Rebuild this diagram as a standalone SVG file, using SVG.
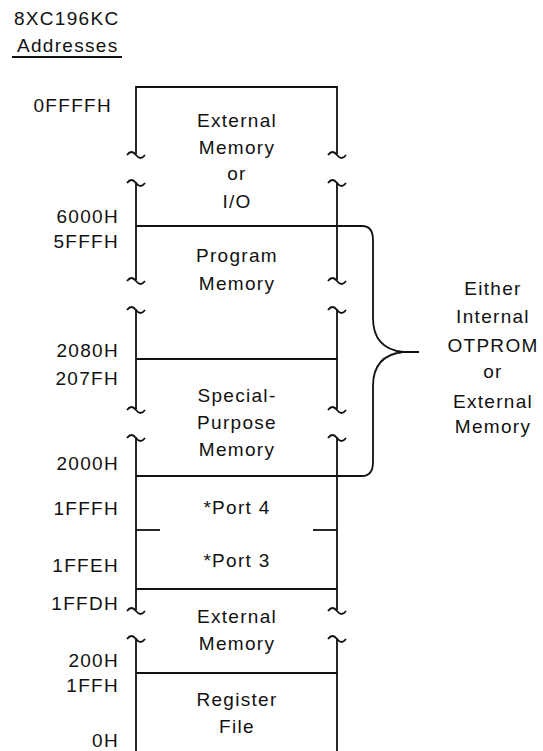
<svg xmlns="http://www.w3.org/2000/svg" width="543" height="751" viewBox="0 0 543 751">
<style>
text{font-family:"Liberation Sans",Arial,sans-serif;font-size:19px;letter-spacing:1.3px;fill:#111}
.c{text-anchor:middle}
.e{text-anchor:end}
.ln{stroke:#111;stroke-width:1.8;fill:none}
.br{stroke:#111;stroke-width:1.8;fill:none;stroke-linejoin:round}
</style>
<defs>
<path id="tdn" d="M-9,1 C-6,-3 -3,-3 0,1 C3,5 6,5 9,1" class="br"/>
<path id="tup" d="M-9,1 C-6,-3 -3,-3 0,1 C3,5 6,5 9,1" class="br"/>
</defs>
<rect width="543" height="751" fill="#fff"/>

<g id="title">
<text x="14" y="25">8XC196KC</text>
<text x="17" y="52">Addresses</text>
<line x1="12" y1="57" x2="122" y2="57" class="ln"/>
</g>

<g id="addresses">
<text class="e" x="112" y="112">0FFFFH</text>
<text class="e" x="119" y="223">6000H</text>
<text class="e" x="119" y="248">5FFFH</text>
<text class="e" x="119" y="357">2080H</text>
<text class="e" x="119" y="385">207FH</text>
<text class="e" x="119" y="470">2000H</text>
<text class="e" x="119" y="515">1FFFH</text>
<text class="e" x="119" y="572">1FFEH</text>
<text class="e" x="119" y="610">1FFDH</text>
<text class="e" x="119" y="667">200H</text>
<text class="e" x="119" y="692">1FFH</text>
<text class="e" x="119" y="747">0H</text>
</g>

<g id="connectors">
<path class="ln" d="M136,154 V87 H337 V154"/>
<path class="ln" d="M136,182 V280 M337,182 V280"/>
<path class="ln" d="M136,309 V409 M337,309 V409"/>
<path class="ln" d="M136,437 V610 M337,437 V610"/>
<path class="ln" d="M136,638 V751 M337,638 V751"/>
<use href="#tdn" x="136" y="154"/><use href="#tdn" x="337" y="154"/>
<use href="#tup" x="136" y="182"/><use href="#tup" x="337" y="182"/>
<use href="#tdn" x="136" y="280"/><use href="#tdn" x="337" y="280"/>
<use href="#tup" x="136" y="309"/><use href="#tup" x="337" y="309"/>
<use href="#tdn" x="136" y="409"/><use href="#tdn" x="337" y="409"/>
<use href="#tup" x="136" y="437"/><use href="#tup" x="337" y="437"/>
<use href="#tdn" x="136" y="610"/><use href="#tdn" x="337" y="610"/>
<use href="#tup" x="136" y="638"/><use href="#tup" x="337" y="638"/>
<line class="ln" x1="136" y1="226" x2="337" y2="226"/>
<line class="ln" x1="136" y1="359" x2="337" y2="359"/>
<line class="ln" x1="136" y1="476" x2="337" y2="476"/>
<line class="ln" x1="136" y1="530" x2="160" y2="530"/>
<line class="ln" x1="313" y1="530" x2="337" y2="530"/>
<line class="ln" x1="136" y1="589" x2="337" y2="589"/>
<line class="ln" x1="136" y1="673" x2="337" y2="673"/>
<path class="br" d="M337,226 H362 Q373,226 373,240 V318 C373,340 385,350 403,352 C385,354 373,364 373,386 V462 Q373,476 362,476 H337 M403,352 H419"/>
</g>

<g id="ext-io">
<text class="c" x="237" y="127">External</text>
<text class="c" x="237" y="154">Memory</text>
<text class="c" x="237" y="180">or</text>
<text class="c" x="237" y="208">I/O</text>
</g>
<g id="program">
<text class="c" x="237" y="262">Program</text>
<text class="c" x="237" y="290">Memory</text>
</g>
<g id="special">
<text class="c" x="237" y="402">Special-</text>
<text class="c" x="237" y="429">Purpose</text>
<text class="c" x="237" y="456">Memory</text>
</g>
<g id="port4"><text class="c" x="237" y="514">*Port 4</text></g>
<g id="port3"><text class="c" x="237" y="567">*Port 3</text></g>
<g id="ext-mem">
<text class="c" x="237" y="623">External</text>
<text class="c" x="237" y="650">Memory</text>
</g>
<g id="regfile">
<text class="c" x="237" y="706">Register</text>
<text class="c" x="237" y="733">File</text>
</g>
<g id="otprom-note">
<text class="c" x="493" y="295">Either</text>
<text class="c" x="493" y="323">Internal</text>
<text class="c" x="493" y="352">OTPROM</text>
<text class="c" x="493" y="378">or</text>
<text class="c" x="493" y="408">External</text>
<text class="c" x="493" y="433">Memory</text>
</g>
</svg>
